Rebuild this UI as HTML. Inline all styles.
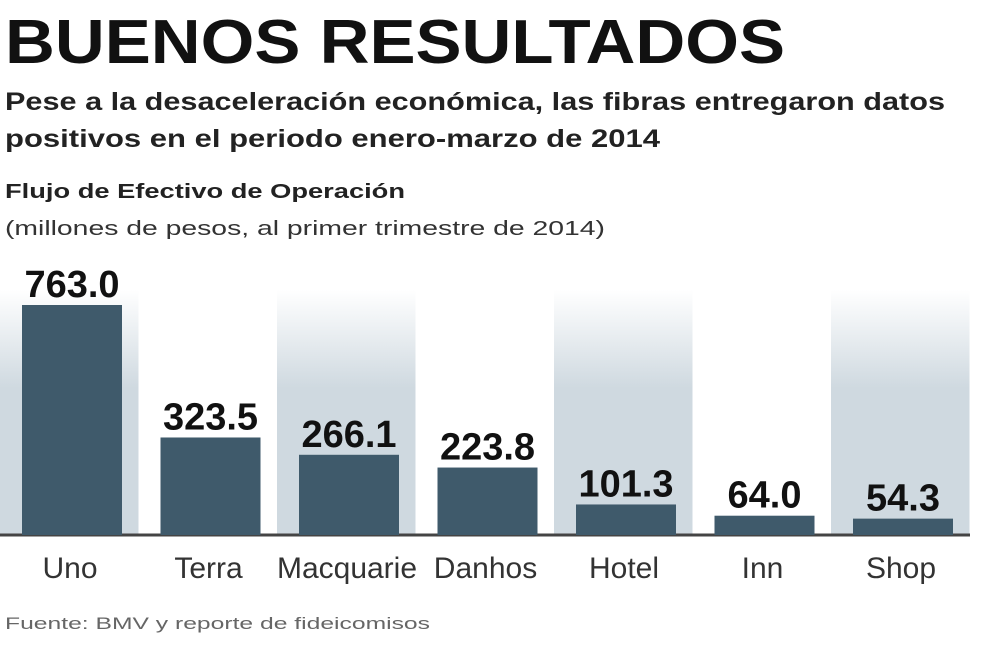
<!DOCTYPE html>
<html><head><meta charset="utf-8"><style>
body{margin:0;background:#fff;}
svg{display:block;font-family:"Liberation Sans",sans-serif;}
</style></head><body>
<svg id="chart" width="990" height="666" viewBox="0 0 990 666">
<defs>
<linearGradient id="band" x1="0" y1="0" x2="0" y2="1">
<stop offset="0" stop-color="#cfd9e0" stop-opacity="0"/>
<stop offset="0.4" stop-color="#cfd9e0" stop-opacity="1"/>
<stop offset="1" stop-color="#cfd9e0"/>
</linearGradient>
</defs>
<text x="5" y="63" font-size="62" font-weight="bold" fill="#111" textLength="780" lengthAdjust="spacingAndGlyphs">BUENOS RESULTADOS</text>
<text x="5" y="110" font-size="25" font-weight="bold" fill="#222" textLength="940" lengthAdjust="spacingAndGlyphs">Pese a la desaceleración económica, las fibras entregaron datos</text>
<text x="5" y="147" font-size="25" font-weight="bold" fill="#222" textLength="655" lengthAdjust="spacingAndGlyphs">positivos en el periodo enero-marzo de 2014</text>
<text x="5" y="198" font-size="20" font-weight="bold" fill="#222" textLength="400" lengthAdjust="spacingAndGlyphs">Flujo de Efectivo de Operación</text>
<text x="5" y="235" font-size="20" fill="#333" textLength="600" lengthAdjust="spacingAndGlyphs">(millones de pesos, al primer trimestre de 2014)</text>
<g id="bands"></g>
<line x1="0" y1="535" x2="970" y2="535" stroke="#444" stroke-width="3"/>
<g id="marks"></g>
<text x="5" y="629" font-size="17" fill="#666" textLength="425" lengthAdjust="spacingAndGlyphs">Fuente: BMV y reporte de fideicomisos</text>
</svg>
<script>
const categories = ["Uno","Terra","Macquarie","Danhos","Hotel","Inn","Shop"];
const values = [763.0,323.5,266.1,223.8,101.3,64.0,54.3];
const valueLabels = ["763.0","323.5","266.1","223.8","101.3","64.0","54.3"];

const ns="http://www.w3.org/2000/svg";
const baseY=535, slotW=138.5, x0=0, pxPerUnit=230/763;
const xPos=i=>x0+i*slotW;
const yPos=v=>baseY-v*pxPerUnit;
const bands=document.getElementById('bands');
const marks=document.getElementById('marks');
categories.forEach((c,i)=>{
  if(i%2===0){
    const b=document.createElementNS(ns,'rect');
    b.setAttribute('x',xPos(i));b.setAttribute('y',290);
    b.setAttribute('width',slotW);b.setAttribute('height',baseY-290);
    b.setAttribute('fill','url(#band)');
    
    
    bands.appendChild(b);
  }
  const r=document.createElementNS(ns,'rect');
  const y=yPos(values[i]);
  r.setAttribute('x',xPos(i)+22);r.setAttribute('y',y);
  r.setAttribute('width',100);r.setAttribute('height',baseY-y);
  r.setAttribute('fill','#3f5a6b');
  
  
  marks.appendChild(r);
  const t=document.createElementNS(ns,'text');
  t.setAttribute('x',xPos(i)+72);t.setAttribute('y',y-8);
  t.setAttribute('text-anchor','middle');t.setAttribute('font-size','38');
  t.setAttribute('font-weight','bold');t.setAttribute('fill','#111');
  t.textContent=valueLabels[i];
  
  
  marks.appendChild(t);
  const l=document.createElementNS(ns,'text');
  l.setAttribute('x',xPos(i)+70);l.setAttribute('y',578);
  l.setAttribute('text-anchor','middle');l.setAttribute('font-size','30');
  l.setAttribute('fill','#333');
  l.textContent=c;
  
  
  marks.appendChild(l);
});
</script>
</body></html>
